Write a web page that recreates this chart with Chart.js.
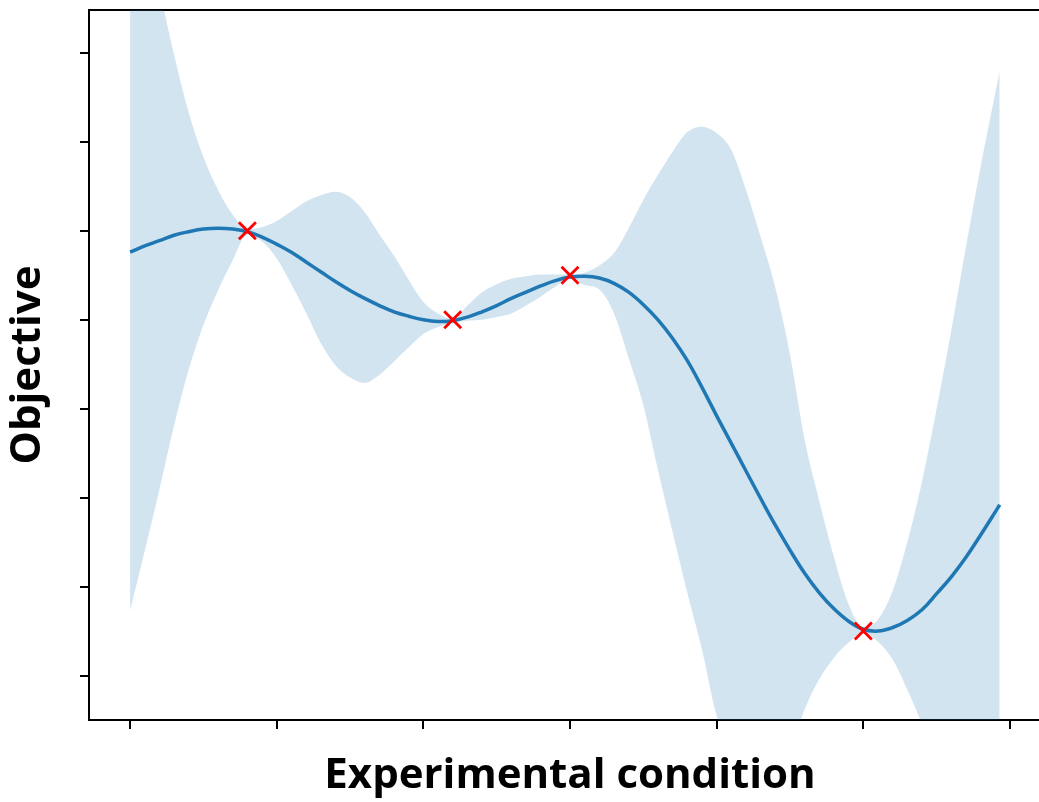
<!DOCTYPE html>
<html>
<head>
<meta charset="utf-8">
<script src="https://cdn.jsdelivr.net/npm/chart.js@4.4.1/dist/chart.umd.min.js"></script>
<style>
  html, body { margin: 0; padding: 0; background: #fff; }
  #wrap { width: 1039px; height: 802px; }
</style>
</head>
<body>
<div id="wrap"><canvas id="chart" width="1039" height="802"></canvas></div>
<script>
// sampled conditions (x)
const conditions = [
  0.0, 0.1, 0.2, 0.3, 0.4, 0.5, 0.6, 0.7, 0.8, 0.9,
  1.0, 1.1, 1.2, 1.3, 1.4, 1.5, 1.6, 1.7, 1.8, 1.9,
  2.0, 2.1, 2.2, 2.3, 2.4, 2.5, 2.6, 2.7, 2.8, 2.9,
  3.0, 3.1, 3.2, 3.3, 3.4, 3.5, 3.6, 3.7, 3.8, 3.9,
  4.0, 4.1, 4.2, 4.3, 4.4, 4.5, 4.6, 4.7, 4.8, 4.9,
  5.0, 5.1, 5.2, 5.3, 5.4, 5.5, 5.6, 5.7, 5.8, 5.9, 5.93
];

// posterior mean
const meanValues = [
  4.76, 4.83, 4.89, 4.95, 4.99, 5.02, 5.03, 5.02, 4.99, 4.93,
  4.85, 4.76, 4.65, 4.54, 4.43, 4.33, 4.24, 4.16, 4.09, 4.04,
  4.00, 3.98, 3.99, 4.03, 4.09, 4.16, 4.24, 4.31, 4.38, 4.44,
  4.48, 4.49, 4.47, 4.41, 4.31, 4.17, 4.00, 3.79, 3.54, 3.24,
  2.92, 2.61, 2.30, 1.99, 1.69, 1.41, 1.15, 0.93, 0.75, 0.61,
  0.52, 0.50, 0.54, 0.62, 0.74, 0.92, 1.11, 1.33, 1.58, 1.84, 1.92
];

// upper edge of the confidence band
const upperValues = [
  8.72, 8.16, 7.69, 6.98, 6.33, 5.83, 5.46, 5.18, 5.02, 5.04,
  5.11, 5.22, 5.33, 5.40, 5.44, 5.38, 5.21, 4.96, 4.72, 4.45,
  4.20, 4.07, 4.01, 4.16, 4.31, 4.40, 4.46, 4.49, 4.51, 4.51,
  4.51, 4.53, 4.61, 4.75, 5.03, 5.35, 5.63, 5.89, 6.11, 6.17,
  6.10, 5.91, 5.46, 4.93, 4.36, 3.61, 2.65, 1.96, 1.33, 0.80,
  0.54, 0.63, 0.95, 1.50, 2.18, 3.00, 3.88, 4.82, 5.72, 6.55, 6.79
];

// lower edge of the confidence band
const lowerValues = [
  0.73, 1.40, 2.09, 2.81, 3.44, 3.94, 4.33, 4.67, 4.96, 4.88,
  4.69, 4.40, 4.08, 3.74, 3.49, 3.35, 3.29, 3.38, 3.53, 3.69,
  3.84, 3.92, 3.97, 3.99, 4.00, 4.03, 4.07, 4.16, 4.26, 4.37,
  4.46, 4.39, 4.34, 4.07, 3.57, 3.04, 2.31, 1.61, 0.93, 0.29,
  -0.45, -0.80, -1.00, -1.05, -1.00, -0.85, -0.38, -0.04, 0.20, 0.37,
  0.48, 0.38, 0.18, -0.16, -0.55, -1.05, -1.55, -2.05, -2.50, -2.80, -2.90
];

// observed experiments
const observedX = [0.8, 2.2, 3.0, 5.0];
const observedY = [5.0, 4.0, 4.5, 0.5];

// tick positions (no labels shown)
const xTickValues = [0, 1, 2, 3, 4, 5, 6];
const yTickValues = [0, 1, 2, 3, 4, 5, 6, 7];

const xLabel = 'Experimental condition';
const yLabel = 'Objective';

const BLUE = '#1f77b4';
const BAND = 'rgba(31, 119, 180, 0.2)';
const TITLE_FONT = 'bold 42px "Open Sans", sans-serif';

const toPoints = (xs, ys) => xs.map((x, i) => ({ x, y: ys[i] }));

// axis titles drawn at fixed spots so they line up with the original
const axisTitles = {
  id: 'axisTitles',
  afterDraw(chart) {
    const ctx = chart.ctx;
    ctx.save();
    ctx.fillStyle = '#000';
    ctx.font = TITLE_FONT;
    ctx.textAlign = 'center';
    ctx.textBaseline = 'alphabetic';
    ctx.fillText(xLabel, 570, 788);
    ctx.translate(40, 365);
    ctx.rotate(-Math.PI / 2);
    ctx.fillText(yLabel, 0, 0);
    ctx.restore();
  }
};

new Chart(document.getElementById('chart'), {
  type: 'line',
  data: {
    datasets: [
      {
        label: 'Observations',
        data: toPoints(observedX, observedY),
        showLine: false,
        pointStyle: 'crossRot',
        pointRadius: 12,
        pointBorderWidth: 2.8,
        pointBorderColor: '#ff0000',
        pointBackgroundColor: '#ff0000',
        order: 0
      },
      {
        label: 'Mean',
        data: toPoints(conditions, meanValues),
        borderColor: BLUE,
        borderWidth: 3.5,
        pointRadius: 0,
        tension: 0.4,
        fill: false,
        order: 1
      },
      {
        label: 'Upper',
        data: toPoints(conditions, upperValues),
        borderWidth: 0,
        borderColor: 'rgba(0,0,0,0)',
        backgroundColor: BAND,
        pointRadius: 0,
        cubicInterpolationMode: 'monotone',
        fill: '+1',
        order: 2
      },
      {
        label: 'Lower',
        data: toPoints(conditions, lowerValues),
        borderWidth: 0,
        borderColor: 'rgba(0,0,0,0)',
        pointRadius: 0,
        cubicInterpolationMode: 'monotone',
        fill: false,
        order: 3
      }
    ]
  },
  options: {
    responsive: false,
    animation: false,
    events: [],
    layout: { padding: 0, autoPadding: false },
    plugins: {
      legend: { display: false },
      tooltip: { enabled: false }
    },
    scales: {
      x: {
        type: 'linear',
        position: 'bottom',
        min: -0.28,
        max: 6.198,
        afterBuildTicks: (s) => { s.ticks = xTickValues.map(v => ({ value: v })); },
        afterFit: (s) => { s.height = 82; },
        ticks: { display: false },
        grid: { display: true, drawOnChartArea: false, drawTicks: true, tickLength: 9, color: '#000', lineWidth: 2 },
        border: { display: true, color: '#000', width: 2 }
      },
      xTop: {
        type: 'linear',
        axis: 'x',
        position: 'top',
        min: -0.28,
        max: 6.198,
        afterFit: (s) => { s.height = 10; },
        ticks: { display: false },
        grid: { display: false },
        border: { display: true, color: '#000', width: 2 }
      },
      y: {
        type: 'linear',
        position: 'left',
        min: -0.5,
        max: 7.483,
        afterBuildTicks: (s) => { s.ticks = yTickValues.map(v => ({ value: v })); },
        afterFit: (s) => { s.width = 89; },
        ticks: { display: false },
        grid: { display: true, drawOnChartArea: false, drawTicks: true, tickLength: 9, color: '#000', lineWidth: 2 },
        border: { display: true, color: '#000', width: 2 }
      }
    }
  },
  plugins: [axisTitles]
});
</script>
</body>
</html>
